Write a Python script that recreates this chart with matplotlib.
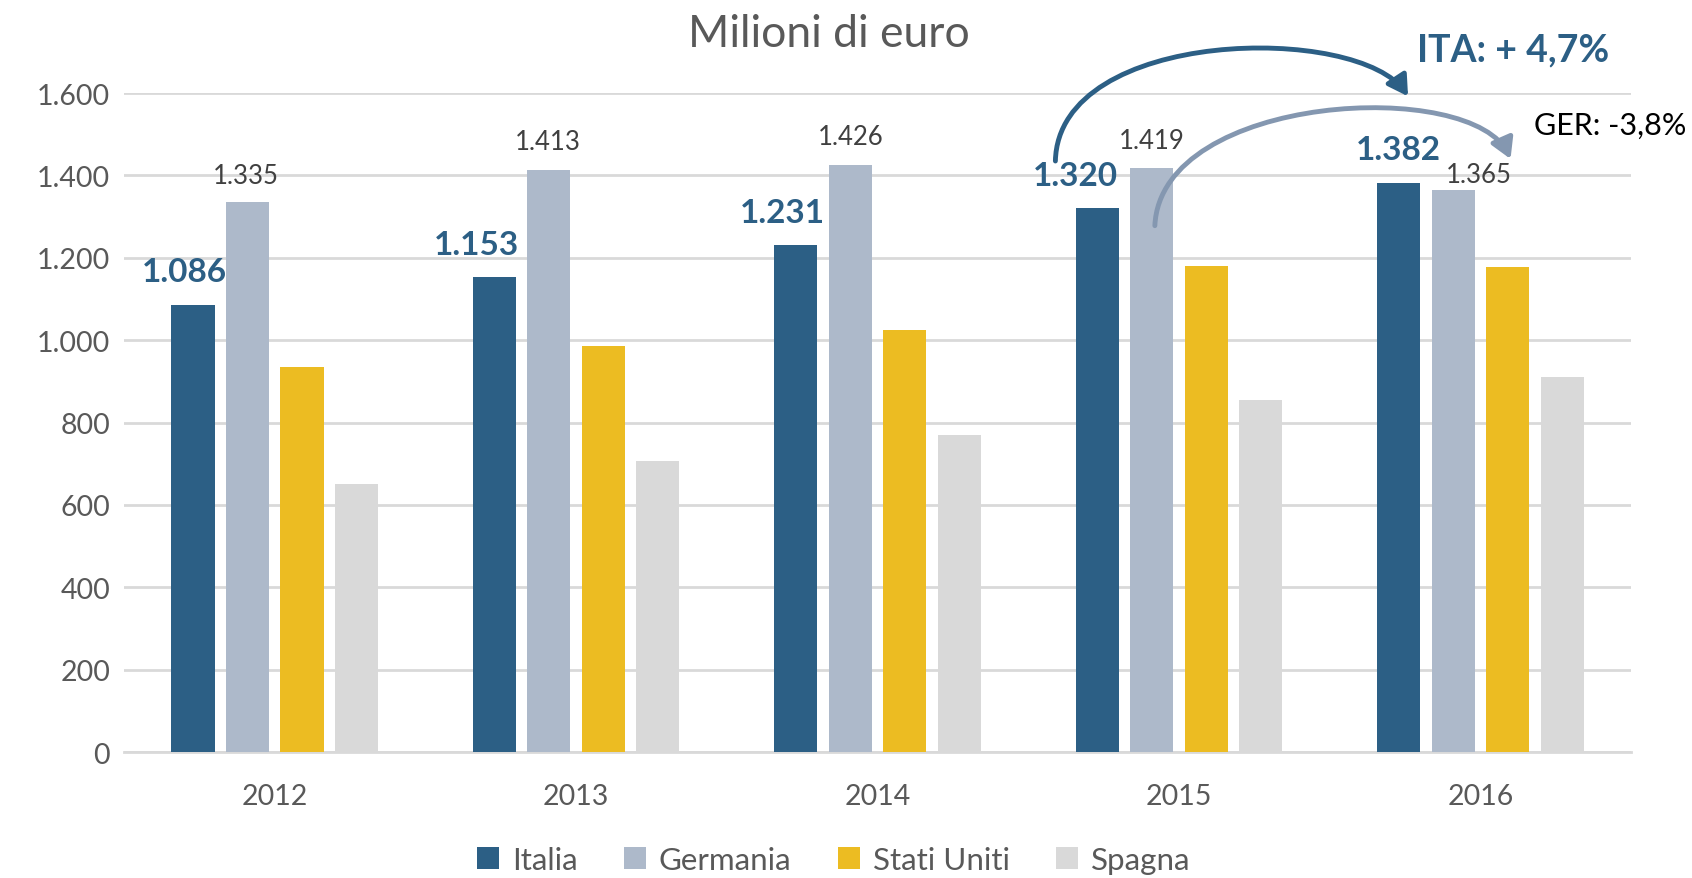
import numpy as np
import matplotlib.pyplot as plt
from matplotlib.patches import FancyArrowPatch
from matplotlib.path import Path
from matplotlib.ticker import FuncFormatter

years = ["2012", "2013", "2014", "2015", "2016"]
series_names = ["Italia", "Germania", "Stati Uniti", "Spagna"]
italia = [1086, 1153, 1231, 1320, 1382]
germania = [1335, 1413, 1426, 1419, 1365]
stati_uniti = [935, 985, 1024, 1181, 1178]
spagna = [652, 707, 770, 854, 911]

COLORS = ["#2C5F85", "#ADB9CA", "#ECBC22", "#D9D9D9"]
GRID = "#D9D9D9"
TXT = "#595959"
plt.rcParams["font.family"] = ["Lato", "DejaVu Sans"]

fig = plt.figure(figsize=(16.92, 8.79), dpi=100)
ax = fig.add_axes([0.0733, 0.1433, 0.8907, 0.7497])

x = np.arange(len(years))
step = 0.1807
width = 0.143
all_series = [italia, germania, stati_uniti, spagna]
for i, (vals, name, col) in enumerate(zip(all_series, series_names, COLORS)):
    ax.bar(x + (i - 1.5) * step, vals, width, color=col, label=name, zorder=3)

ax.set_xlim(-0.5, len(years) - 0.5)
ax.set_ylim(0, 1600)
ax.set_yticks(np.arange(0, 1601, 200))
ax.yaxis.set_major_formatter(FuncFormatter(lambda v, p: f"{int(v):,}".replace(",", ".")))
ax.set_xticks(x)
ax.set_xticklabels(years)
ax.grid(axis="y", color=GRID, linewidth=2, zorder=0)
for s in ["top", "right", "left"]:
    ax.spines[s].set_visible(False)
ax.spines["bottom"].set_color(GRID)
ax.spines["bottom"].set_linewidth(2)
ax.tick_params(axis="both", length=0, labelsize=20.5, labelcolor=TXT)
ax.tick_params(axis="x", pad=22)
ax.tick_params(axis="y", pad=10)

fig.text(0.49, 0.961, "Milioni di euro", fontsize=32, color=TXT,
         ha="center", va="center")

# etichette Italia (posizionate a mano come nell'originale)
ita_dx = [-9, -18, -13, -22, 0]
for i, v in enumerate(italia):
    ax.annotate(f"{v:,}".replace(",", "."), (x[i] - 1.5 * step, v),
                xytext=(ita_dx[i], 33), textcoords="offset pixels",
                ha="center", va="center", fontsize=24, fontweight="bold",
                color=COLORS[0])

ger_dx = [-2, -1, 0, 0, 26]
ger_dy = [27, 29, 28, 27, 15]
for i, v in enumerate(germania):
    ax.annotate(f"{v:,}".replace(",", "."), (x[i] - 0.5 * step, v),
                xytext=(ger_dx[i], ger_dy[i]), textcoords="offset pixels",
                ha="center", va="center", fontsize=18.5, color="#404040")

# frecce di variazione 2015 -> 2016
ita_path = Path([(2.59, 1435), (2.60, 1760), (3.60, 1770), (3.76, 1592)],
                [Path.MOVETO, Path.CURVE4, Path.CURVE4, Path.CURVE4])
ger_path = Path([(2.92, 1278), (2.94, 1600), (3.98, 1640), (4.10, 1440)],
                [Path.MOVETO, Path.CURVE4, Path.CURVE4, Path.CURVE4])
for pth, col in [(ita_path, "#2C5F85"), (ger_path, "#8497B0")]:
    arr = FancyArrowPatch(path=pth, arrowstyle="-|>,head_length=12,head_width=7",
                          color=col, linewidth=3.5, transform=ax.transData,
                          clip_on=False, zorder=5)
    ax.add_patch(arr)

ax.text(4.11, 1705, "ITA: + 4,7%", ha="center", va="center", fontsize=27,
        fontweight="bold", color=COLORS[0], clip_on=False)
ax.text(4.43, 1524, "GER: -3,8%", ha="center", va="center", fontsize=22,
        color="black", clip_on=False)

leg = ax.legend(loc="upper center", bbox_to_anchor=(0.471, -0.1), ncol=4,
                frameon=False, fontsize=22.5, handlelength=0.7, handleheight=0.7,
                handletextpad=0.4, columnspacing=1.5)
for t in leg.get_texts():
    t.set_color(TXT)

fig.savefig("out.png", dpi=100)
